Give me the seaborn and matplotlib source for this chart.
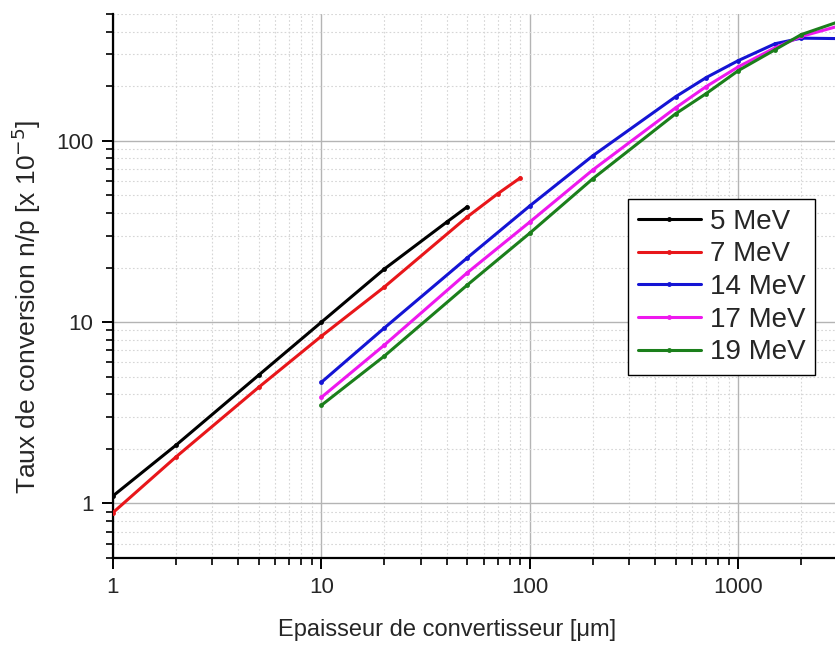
import matplotlib

matplotlib.use("Agg")
import matplotlib.pyplot as plt
import numpy as np
import pandas as pd
import seaborn as sns
from matplotlib.ticker import FixedLocator, LogLocator, NullFormatter

# thickness (um) and conversion rate n/p (x 1e-5)
x_5mev = [1, 2, 5, 10, 20, 40, 50]
y_5mev = [1.10, 2.09, 5.1, 10.0, 19.6, 35.7, 43.2]

x_7mev = [1, 2, 5, 10, 20, 50, 70, 90]
y_7mev = [0.89, 1.80, 4.37, 8.37, 15.6, 38.0, 51.0, 62.5]

x_high = [10, 20, 50, 100, 200, 500, 700, 1000, 1500, 2000, 3000]
y_14mev = [4.66, 9.27, 22.6, 43.8, 82.6, 175, 223, 277, 343, 368, 366]
y_17mev = [3.85, 7.46, 18.7, 35.7, 69.0, 152, 199, 256, 326, 376, 428]
y_19mev = [3.48, 6.49, 16.0, 31.0, 61.7, 141, 182, 244, 318, 385, 452]

labels = ["5 MeV", "7 MeV", "14 MeV", "17 MeV", "19 MeV"]
colors = ["#000000", "#e8161a", "#1414d4", "#ee18ee", "#1b7f1b"]

series = [
    (x_5mev, y_5mev),
    (x_7mev, y_7mev),
    (x_high, y_14mev),
    (x_high, y_17mev),
    (x_high, y_19mev),
]
df = pd.concat(
    [
        pd.DataFrame({"x": xs, "y": ys, "energy": lab})
        for (xs, ys), lab in zip(series, labels)
    ],
    ignore_index=True,
)

sns.set_style("white")
plt.rcParams["font.family"] = ["Liberation Sans", "DejaVu Sans"]

fig = plt.figure(figsize=(8.35, 6.46), dpi=100)
ax = fig.add_axes([0.1353, 0.1362, 0.8647, 0.8421])

sns.lineplot(
    data=df,
    x="x",
    y="y",
    hue="energy",
    hue_order=labels,
    palette=dict(zip(labels, colors)),
    marker="o",
    markersize=3.5,
    markeredgewidth=0,
    linewidth=2.2,
    estimator=None,
    ax=ax,
    zorder=3,
)

ax.set_xscale("log")
ax.set_yscale("log")
ax.set_xlim(1, 2905)
ax.set_ylim(0.5, 500)

ax.xaxis.set_major_locator(FixedLocator([1, 10, 100, 1000]))
ax.xaxis.set_minor_locator(LogLocator(base=10, subs=np.arange(2, 10)))
ax.xaxis.set_minor_formatter(NullFormatter())
ax.set_xticklabels(["1", "10", "100", "1000"])
ax.yaxis.set_major_locator(FixedLocator([1, 10, 100]))
ax.yaxis.set_minor_locator(LogLocator(base=10, subs=np.arange(2, 10)))
ax.yaxis.set_minor_formatter(NullFormatter())
ax.set_yticklabels(["1", "10", "100"])

ax.grid(which="major", color="#b4b4b4", linewidth=1.0, linestyle="-")
ax.grid(which="minor", color="#d6d6d6", linewidth=0.8, linestyle=(0, (1.5, 2)))
ax.set_axisbelow(True)

for side in ["top", "right"]:
    ax.spines[side].set_visible(False)
for side in ["left", "bottom"]:
    ax.spines[side].set_color("black")
    ax.spines[side].set_linewidth(1.6)

ax.tick_params(which="major", direction="out", length=8, width=1.4,
               labelsize=16, color="black", left=True, bottom=True, pad=6)
ax.tick_params(which="minor", direction="out", length=5, width=1.2,
               color="black", left=True, bottom=True)

ax.set_xlabel("Epaisseur de convertisseur [μm]", fontsize=17)
ax.set_ylabel("Taux de conversion n/p [x 10$^{-5}$]", fontsize=19)
ax.xaxis.set_label_coords(0.463, -0.113)
ax.yaxis.set_label_coords(-0.097, 0.461)

leg = ax.legend(
    loc="upper left",
    bbox_to_anchor=(0.713, 0.660),
    fontsize=20,
    frameon=True,
    fancybox=False,
    edgecolor="black",
    framealpha=1,
    handlelength=2.3,
    handletextpad=0.3,
    labelspacing=0.24,
    borderpad=0.35,
    borderaxespad=0,
    title=None,
)
leg.get_frame().set_linewidth(1.0)

fig.savefig("out.png", dpi=100)
